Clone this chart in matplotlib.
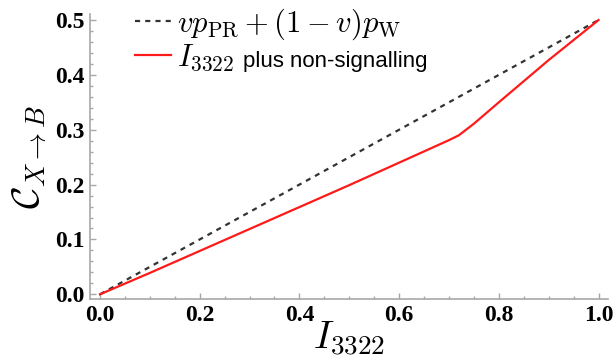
#!/usr/bin/env python3
"""Channel capacity C_{X->B} against the I_3322 violation: PR/white-noise mix vs I_3322 + non-signalling."""
import matplotlib; matplotlib.use("Agg")
import matplotlib.pyplot as plt
from matplotlib.ticker import MultipleLocator

plt.rcParams["mathtext.fontset"]="cm"
plt.rcParams["font.family"]=["Liberation Sans","DejaVu Sans"]

# ---- data ------------------------------------------------------------------
mix_x=[0.0,1.0]                       # v p_PR + (1-v) p_W, straight line
mix_y=[0.0,0.5]
ns_x=[0.0,0.1,0.2,0.3,0.4,0.5,0.6,0.7,0.72,0.75,0.8,0.9,1.0]
ns_y=[0.0,0.039,0.079,0.119,0.159,0.199,0.240,0.281,0.290,0.311,0.350,0.427,0.5]
xticks=[0.0,0.2,0.4,0.6,0.8,1.0]
yticks=[0.0,0.1,0.2,0.3,0.4,0.5]

GREY="#a8a8a8"
fig=plt.figure(figsize=(6.14,3.62),dpi=100)
ax=fig.add_axes([0.1466,0.1732,0.8436,0.7881])

ax.plot(mix_x,mix_y,color="#333333",lw=1.6,ls=(0,(2.3,2.3)),
        label=r"$vp_{\rm PR}+(1-v)p_{\rm W}$")
ax.plot(ns_x,ns_y,color="#ff1a1a",lw=1.6,label=r"$I_{3322}$")

ax.set_xlim(-0.02,1.019); ax.set_ylim(-0.0091,0.511)
ax.set_xticks(xticks); ax.set_yticks(yticks)
ax.xaxis.set_minor_locator(MultipleLocator(0.05))
ax.yaxis.set_minor_locator(MultipleLocator(0.02))
ax.set_xticklabels([f"{t:.1f}" for t in xticks])
ax.set_yticklabels([f"{t:.1f}" for t in yticks])
for s in ("top","right"): ax.spines[s].set_visible(False)
for s in ("left","bottom"): ax.spines[s].set_color(GREY); ax.spines[s].set_linewidth(1.2)
ax.tick_params(which="both",direction="in",color=GREY,width=1)
ax.tick_params(which="major",length=4.5,pad=4)
ax.tick_params(which="minor",length=2.5)
for lab in ax.get_xticklabels()+ax.get_yticklabels():
    lab.set_fontfamily("Liberation Serif"); lab.set_fontweight("bold"); lab.set_fontsize(17)

ax.set_xlabel(r"$I_{3322}$",fontsize=28,labelpad=-5)
ax.set_ylabel(r"$\mathcal{C}_{X\to B}$",fontsize=28,labelpad=4)

leg=ax.legend(loc="upper left",bbox_to_anchor=(0.045,1.10),frameon=False,fontsize=22,
              handlelength=1.2,handletextpad=0.2,labelspacing=0.0,borderpad=0.2)

# the sans part of the second label is smaller than the math, so it goes on as its own text
fig.canvas.draw()
bb=leg.get_texts()[1].get_window_extent()
x0,y0=fig.transFigure.inverted().transform((bb.x1+8,bb.y0+6))
fig.text(x0,y0,"plus non-signalling",fontsize=16,va="baseline",ha="left")

fig.savefig("out.png",dpi=100)
